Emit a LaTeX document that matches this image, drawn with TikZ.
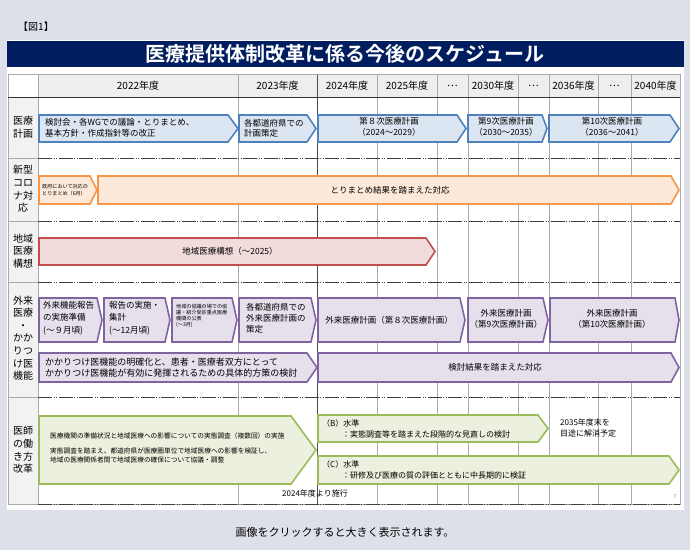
\documentclass[tikz,border=0pt]{standalone}
\usepackage{fontspec}
\setmainfont{Noto Sans CJK JP}[BoldFont={Noto Sans CJK JP Bold}]
\usetikzlibrary{positioning}

\definecolor{pagebg}{RGB}{221,224,232}
\definecolor{navy}{RGB}{0,30,95}
\definecolor{hdrgray}{RGB}{238,238,238}
\definecolor{colgray}{RGB}{242,242,242}
\definecolor{gridgray}{RGB}{170,170,170}
\definecolor{blueline}{RGB}{79,129,189}
\definecolor{bluefill}{RGB}{220,230,242}
\definecolor{orgline}{RGB}{247,150,70}
\definecolor{orgfill}{RGB}{253,233,217}
\definecolor{redline}{RGB}{192,80,77}
\definecolor{redfill}{RGB}{242,220,219}
\definecolor{purline}{RGB}{128,100,162}
\definecolor{purfill}{RGB}{229,224,236}
\definecolor{grnline}{RGB}{155,187,89}
\definecolor{grnfill}{RGB}{235,241,222}

% arrow box: x1, x2, ytop, ybot, tip, style
\newcommand{\chevbox}[6]{%
  \draw[#6] (#1,#3) -- ({#2-#5},#3) -- (#2,{(#3+#4)/2}) -- ({#2-#5},#4) -- (#1,#4) -- cycle;}

\tikzset{
  bluearr/.style={draw=blueline, fill=bluefill, line width=1.6pt},
  orgarr/.style={draw=orgline, fill=orgfill, line width=1.6pt},
  redarr/.style={draw=redline, fill=redfill, line width=1.6pt},
  purarr/.style={draw=purline, fill=purfill, line width=1.6pt},
  grnarr/.style={draw=grnline, fill=grnfill, line width=1.6pt},
  rowlbl/.style={font=\fontsize{10}{12.6}\selectfont, align=center},
  hdr/.style={font=\fontsize{10}{12}\selectfont},
  txt/.style={font=\fontsize{8.5}{10.5}\selectfont, align=left, anchor=west, inner sep=0pt},
  ctxt/.style={font=\fontsize{8.5}{10.5}\selectfont, align=center, inner sep=0pt},
  minitxt/.style={font=\fontsize{5.1}{6.2}\selectfont, align=left, anchor=west, inner sep=0pt},
  rowsep/.style={draw=black!75, dash pattern=on 14pt off 1.5pt on 1pt off 1.5pt on 1pt off 1.5pt},
}

\begin{document}
\begin{tikzpicture}[x=1pt, y=-1pt]
  \useasboundingbox (0,0) rectangle (690,550);
  \fill[pagebg] (0,0) rectangle (690,550);
  \fill[white] (7,40) rectangle (684,510);
  \fill[navy] (7,41) rectangle (684,67);
  \node (fig) [font=\fontsize{10}{12}\selectfont] at (36,27) {【図1】};
  \node (title) [text=white, font=\bfseries\fontsize{20}{24}\selectfont] at (345,54) {医療提供体制改革に係る今後のスケジュール};

  % table
  \fill[hdrgray] (38,74) rectangle (680,97);
  \fill[colgray] (8,97) rectangle (38,504);
  \foreach \x in {38,238,377,437,468,518,549,598,631}
    \draw[gridgray] (\x,74) -- (\x,504);
  \draw[black!70] (317,74) -- (317,504);
  \draw[gridgray] (8,74) rectangle (680,504);
  \draw[black!80] (8,97) -- (680,97);
  \draw[gridgray] (8,158) -- (38,158);
  \draw[gridgray] (8,221) -- (38,221);
  \draw[gridgray] (8,282) -- (38,282);
  \draw[gridgray] (8,397) -- (38,397);
  \draw[rowsep] (38,158) -- (680,158);
  \draw[rowsep] (38,221) -- (680,221);
  \draw[rowsep] (38,282) -- (680,282);
  \draw[rowsep] (38,397) -- (680,397);
  \draw[rowsep] (38,504) -- (680,504);

  % year header
  \node (y22) [hdr] at (138,86) {2022年度};
  \node (y23) [hdr] at (277.5,86) {2023年度};
  \node (y24) [hdr] at (347,86) {2024年度};
  \node (y25) [hdr] at (407,86) {2025年度};
  \node (d1) [hdr] at (452.5,86) {…};
  \node (y30) [hdr] at (493,86) {2030年度};
  \node (d2) [hdr] at (533.5,86) {…};
  \node (y36) [hdr] at (573.5,86) {2036年度};
  \node (d3) [hdr] at (614.5,86) {…};
  \node (y40) [hdr] at (655.5,86) {2040年度};

  % row labels
  \node (lplan) [rowlbl] at (23,127) {医療\\計画};
  \node (lcovid) [rowlbl] at (23,189) {新型\\コロ\\ナ対\\応};
  \node (lregion) [rowlbl] at (23,251) {地域\\医療\\構想};
  \node (lout) [rowlbl] at (23,338) {外来\\医療\\・\\かか\\りつ\\け医\\機能};
  \node (ldoc) [rowlbl] at (23,450) {医師\\の働\\き方\\改革};

  % 医療計画
  \chevbox{39}{238}{115}{142}{10}{bluearr}
  \chevbox{239}{316}{115}{142}{9}{bluearr}
  \chevbox{318}{466}{115}{142}{9}{bluearr}
  \chevbox{468}{547}{115}{142}{5}{bluearr}
  \chevbox{549}{679}{115}{142}{9}{bluearr}
  \node (p1) [txt] at (45,128) {検討会・各WGでの議論・とりまとめ、\\基本方針・作成指針等の改正};
  \node (p2) [txt] at (244,128) {各都道府県での\\計画策定};
  \node (p3) [ctxt] at (389,127) {第８次医療計画\\（2024～2029）};
  \node (p4) [ctxt] at (506,127) {第9次医療計画\\（2030～2035）};
  \node (p5) [ctxt] at (612,127) {第10次医療計画\\（2036～2041）};

  % 新型コロナ対応
  \chevbox{39}{97}{176}{204}{7}{orgarr}
  \chevbox{98}{679}{176}{204}{8}{orgarr}
  \node (c1) [minitxt] at (42,190) {政府において対応の\\とりまとめ（6月）};
  \node (c2) [ctxt] at (390,190) {とりまとめ結果を踏まえた対応};

  % 地域医療構想
  \chevbox{39}{435}{238}{265}{9}{redarr}
  \node (r1) [ctxt] at (230,251.5) {地域医療構想（～2025）};

  % 外来医療・かかりつけ医機能
  \chevbox{39}{102}{298}{342}{5}{purarr}
  \chevbox{104}{170}{298}{342}{5}{purarr}
  \chevbox{172}{237}{298}{342}{5}{purarr}
  \chevbox{239}{316}{298}{342}{5}{purarr}
  \chevbox{318}{465}{298}{342}{5}{purarr}
  \chevbox{468}{548}{298}{342}{5}{purarr}
  \chevbox{550}{679}{298}{342}{4}{purarr}
  \node (o1) [txt, font=\fontsize{8.5}{12.5}\selectfont] at (43,318) {外来機能報告\\の実施準備\\(～９月頃)};
  \node (o2) [txt, font=\fontsize{8.5}{12.5}\selectfont] at (109,318) {報告の実施・\\集計\\(～12月頃)};
  \node (o3) [minitxt] at (176,316) {地域の協議の場での協\\議・紹介受診重点医療\\機関の公表\\(～3月)};
  \node (o4) [txt, font=\fontsize{8.5}{11}\selectfont] at (246,318) {各都道府県での\\外来医療計画の\\策定};
  \node (o5) [ctxt] at (389,320) {外来医療計画（第８次医療計画）};
  \node (o6) [ctxt] at (506,319) {外来医療計画\\（第9次医療計画）};
  \node (o7) [ctxt] at (612,319) {外来医療計画\\（第10次医療計画）};
  \chevbox{39}{317}{353}{382}{10}{purarr}
  \chevbox{318}{679}{353}{382}{8}{purarr}
  \node (k1) [txt, font=\fontsize{9}{11}\selectfont] at (45,367.5) {かかりつけ医機能の明確化と、患者・医療者双方にとって\\かかりつけ医機能が有効に発揮されるための具体的方策の検討};
  \node (k2) [ctxt] at (495,367.5) {検討結果を踏まえた対応};

  % 医師の働き方改革
  \chevbox{39}{316}{416}{484}{25}{grnarr}
  \chevbox{318}{548}{415}{442}{10}{grnarr}
  \chevbox{318}{679}{456}{484}{10}{grnarr}
  \node (w1) [txt, font=\fontsize{6.7}{9.5}\selectfont] at (50,448) {医療機関の準備状況と地域医療への影響についての実態調査（複数回）の実施\\[5pt]実態調査を踏まえ、都道府県が医療圏単位で地域医療への影響を検証し、\\地域の医療関係者間で地域医療の確保について協議・調整};
  \node (wb) [txt, font=\fontsize{8}{11}\selectfont] at (322,428.5) {（B）水準\\\hspace*{20pt}：実態調査等を踏まえた段階的な見直しの検討};
  \node (wc) [txt, font=\fontsize{8}{11}\selectfont] at (322,470) {（C）水準\\\hspace*{20pt}：研修及び医療の質の評価とともに中長期的に検証};
  \node (w2035) [txt, font=\fontsize{8}{11.5}\selectfont] at (560,428) {2035年度末を\\目途に解消予定};
  \node (w2024) [font=\fontsize{8}{10}\selectfont] at (315,493) {2024年度より施行};
  \node (pg) [text=gray, font=\fontsize{5}{6}\selectfont] at (675,497) {7};

  \node (note) [font=\fontsize{11}{13}\selectfont] at (345,532) {画像をクリックすると大きく表示されます。};
\end{tikzpicture}
\end{document}
